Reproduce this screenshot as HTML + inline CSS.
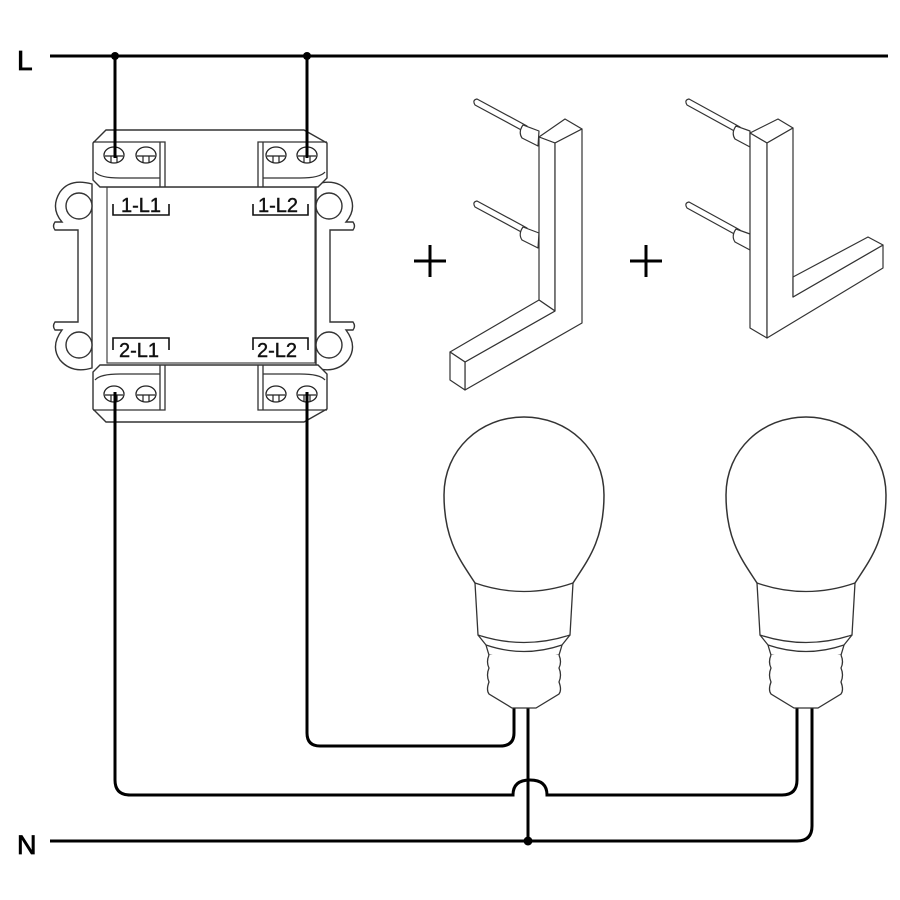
<!DOCTYPE html>
<html><head><meta charset="utf-8"><style>
html,body{margin:0;padding:0;background:#fff;}
svg{display:block;}
text{font-family:"Liberation Sans",sans-serif;}
</style></head><body>
<svg width="900" height="900" viewBox="0 0 900 900" xmlns="http://www.w3.org/2000/svg">
<defs>
<g id="screw">
<ellipse cx="0" cy="0" rx="10" ry="8" fill="#fff" stroke="#222" stroke-width="1.3"/>
<path d="M-9,1 H9 M-3,1 V7 M3,1 V7" stroke="#222" stroke-width="1.2" fill="none"/>
</g>
<g id="bulb">
<path d="M-49,583 C-64,560 -80,540 -80,495 C-80,450 -44,417 0,417 C44,417 80,450 80,495 C80,540 64,560 49,583" fill="#fff" stroke="#333" stroke-width="1.5"/>
<path d="M-49,583 Q0,600 49,583 L46,635 Q0,650 -46,635 Z" fill="#fff" stroke="#333" stroke-width="1.3"/>
<path d="M-46,635 L-38,645 Q0,658 38,645 L46,635" fill="none" stroke="#333" stroke-width="1.3"/>
<path d="M-38,645 Q-36,652 -35,655 Q0,662 35,655 Q36,652 38,645" fill="none" stroke="#333" stroke-width="1.3"/>
<path d="M-35,655 Q-38,662 -35,668 Q-38,675 -35,682 Q-38,690 -35,694 L-12,708 H12 L35,694 Q38,690 35,682 Q38,675 35,668 Q38,662 35,655" fill="#fff" stroke="#333" stroke-width="1.3"/>
</g>
</defs>

<!-- L and N -->
<text x="17" y="70" font-size="28" stroke="#000" stroke-width="0.8">L</text>
<text x="17" y="854" font-size="27" stroke="#000" stroke-width="0.8">N</text>
<line x1="50" y1="56" x2="888" y2="56" stroke="#000" stroke-width="3"/>

<!-- switch body -->
<g fill="#fff" stroke="#333" stroke-width="1.4">
<path d="M92,184 Q70,178 60,192 Q50,208 62,222 L55,222 Q52,226 55,230 L78,230 V322 L55,322 Q52,326 55,330 L62,330 Q50,346 60,360 Q72,374 92,368 Z"/>
<path d="M316,184 Q338,178 348,192 Q358,208 346,222 L353,222 Q356,226 353,230 L330,230 V322 L353,322 Q356,326 353,330 L346,330 Q358,346 348,360 Q336,374 316,368 Z"/>
<circle cx="79" cy="206" r="13"/><circle cx="329" cy="206" r="13"/>
<circle cx="79" cy="345" r="13"/><circle cx="329" cy="345" r="13"/>
<rect x="107" y="187" width="208" height="176" stroke-width="1.1"/>
<path d="M93,143 L106,130 H304 L327,143 V178 L318,187 H100 L93,180 Z"/>
<path d="M93,409 L106,422 H304 L327,409 V374 L318,365 H100 L93,372 Z"/>
</g>
<g fill="none" stroke="#333" stroke-width="1.3">
<path d="M93,142 H165 V187 M160,142 V187 M95,172 Q100,178 120,178 H160"/>
<path d="M327,142 H258 V187 M263,142 V187 M325,172 Q320,178 300,178 H263"/>
<path d="M93,410 H165 V365 M160,410 V365 M95,380 Q100,374 120,374 H160"/>
<path d="M327,410 H258 V365 M263,410 V365 M325,380 Q320,374 300,374 H263"/>
</g>
<use href="#screw" x="114" y="155"/><use href="#screw" x="146" y="155"/>
<use href="#screw" x="276" y="155"/><use href="#screw" x="307" y="155"/>
<use href="#screw" x="114" y="394"/><use href="#screw" x="146" y="394"/>
<use href="#screw" x="276" y="394"/><use href="#screw" x="307" y="394"/>

<!-- labels -->
<g font-size="20" fill="#111" stroke="#111" stroke-width="0.4">
<text x="121" y="212">1-L1</text>
<text x="258" y="212">1-L2</text>
<text x="119" y="357">2-L1</text>
<text x="257" y="357">2-L2</text>
</g>
<g fill="none" stroke="#111" stroke-width="1.6">
<path d="M113,204 V215 H169 V204"/>
<path d="M253,204 V215 H308 V204"/>
<path d="M113,350 V338 H169 V350"/>
<path d="M253,350 V338 H308 V350"/>
</g>

<!-- wires -->
<g fill="none" stroke="#000" stroke-width="3">
<line x1="115" y1="56" x2="115" y2="158"/>
<line x1="307" y1="56" x2="307" y2="158"/>
<path d="M115,392 V780 Q115,795 130,795 H513 Q513,780 530,780 Q547,780 547,795 H782 Q797,795 797,780 V708"/>
<path d="M307,392 V733 Q307,746 320,746 H500 Q514,746 514,733 V708"/>
<line x1="528" y1="708" x2="528" y2="841"/>
<path d="M50,841 H797 Q812,841 812,826 V708"/>
</g>
<circle cx="115" cy="56" r="4"/><circle cx="307" cy="56" r="4"/>
<circle cx="528" cy="841" r="4.5"/>

<use href="#bulb" x="524" y="0"/>
<use href="#bulb" x="806" y="0"/>

<g stroke="#000" stroke-width="3">
<path d="M414,261 H446 M430,245 V277"/>
<path d="M630,261 H662 M646,245 V277"/>
</g>

<!-- bar 1 -->
<g fill="#fff" stroke="#333" stroke-width="1.2" stroke-linejoin="round">
<path d="M477,99 L527,126 L525,132 L475,105 Q472,100 477,99 Z"/>
<path d="M477,201 L527,228 L525,234 L475,207 Q472,202 477,201 Z"/>
<path d="M523,125 Q518,132 522,138 L538,146 L539,131 Z"/>
<path d="M523,227 Q518,234 522,240 L538,248 L539,233 Z"/>
<path d="M539,137 L565,119 L582,129 L555,143 Z"/>
<path d="M539,137 V300 L555,311 V143 Z"/>
<path d="M555,143 L582,129 V323 L465,390 V362 L555,311 Z"/>
<path d="M539,300 L450,352 L465,362 L555,311 Z"/>
<path d="M450,352 L465,362 V390 L450,380 Z"/>
</g>

<!-- bar 2 -->
<g fill="#fff" stroke="#333" stroke-width="1.2" stroke-linejoin="round">
<path d="M689,99 L740,127 L738,133 L687,105 Q684,100 689,99 Z"/>
<path d="M689,202 L740,230 L738,236 L687,208 Q684,203 689,202 Z"/>
<path d="M736,126 Q731,133 735,139 L750,147 L750,131 Z"/>
<path d="M736,229 Q731,236 735,242 L750,250 L750,234 Z"/>
<path d="M750,133 L778,119 L793,128 L767,143 Z"/>
<path d="M750,133 V328 L767,338 V143 Z"/>
<path d="M767,143 L793,128 V297 L883,245 V268 L767,338 Z"/>
<path d="M793,277 L868,237 L883,245 L793,297 Z"/>
</g>
</svg>
</body></html>
